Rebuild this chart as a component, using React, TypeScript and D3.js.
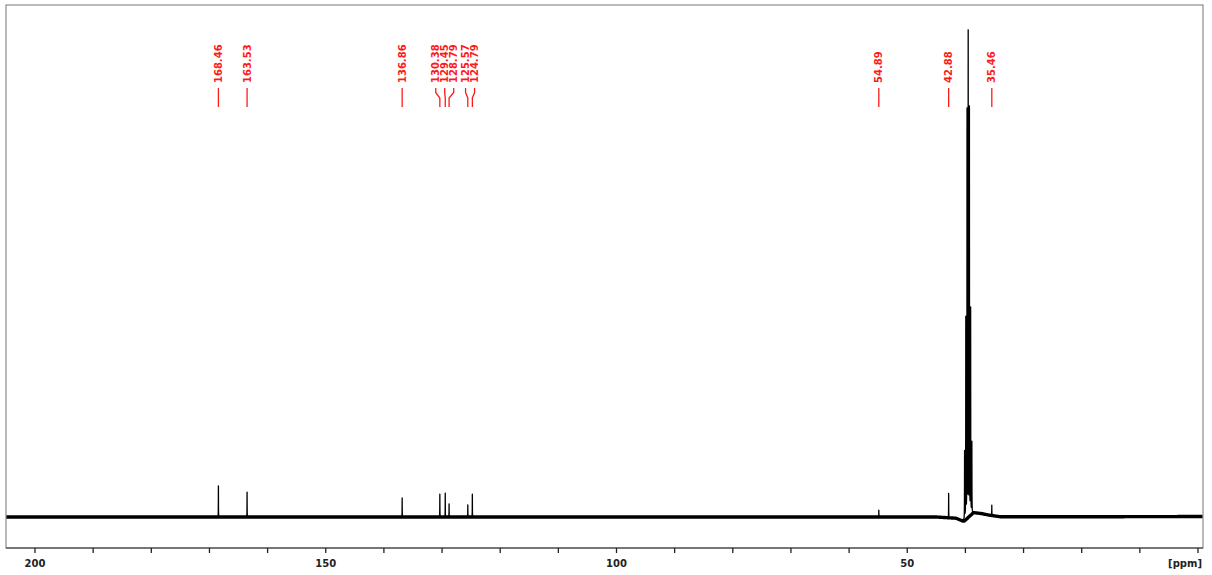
import React, { useMemo } from "react";
import * as d3 from "d3";

// Peak picking (ppm) and peak intensities (relative, tallest solvent line = 100)
const peakPpm = [168.46, 163.53, 136.86, 130.38, 129.45, 128.79, 125.57, 124.79, 54.89, 42.88, 35.46];
const peakHeight = [6.4, 5.1, 3.9, 4.7, 4.9, 2.7, 2.5, 4.7, 1.4, 5.0, 2.1];
const peakLabels = ["168.46", "163.53", "136.86", "130.38", "129.45", "128.79", "125.57", "124.79", "54.89", "42.88", "35.46"];

// Solvent (DMSO-d6) septet, unlabelled
const solventPpm = [40.14, 39.93, 39.72, 39.52, 39.31, 39.10, 38.89];
const solventHeight = [14.0, 41.0, 83.3, 99.0, 83.3, 42.0, 14.5];

// Slow baseline drift (ppm, relative intensity)
const driftPpm = [206, 45, 41.6, 40.4, 40.2, 38.6, 37.2, 36.0, 34.0, 20, -2];
const driftVal = [0, 0, -0.25, -0.85, -0.85, 0.9, 0.7, 0.4, 0.05, 0.05, 0.1];

// Axis
const majorTicks = [200, 150, 100, 50];
const minorStep = 10;

const W = 1212;
const H = 575;
const frame = { left: 6, top: 5, right: 1203, bottom: 548 };

export default function App() {
  const x = d3.scaleLinear().domain([200, 0]).range([35, 1198]);
  const y = d3.scaleLinear().domain([0, 100]).range([517, 30]);
  const drift = d3.scaleLinear().domain(driftPpm).range(driftVal);

  const pMax = x.invert(frame.left);
  const pMin = x.invert(frame.right);

  const { specPath, basePath } = useMemo(() => {
    const pts: number[] = [];
    for (let p = pMax; p >= pMin; p -= 0.05) pts.push(p);
    const centers = [...peakPpm, ...solventPpm];
    centers.forEach((c) => {
      for (let p = c - 0.3; p <= c + 0.3; p += 0.004) pts.push(p);
      pts.push(c);
    });
    pts.sort((a, b) => b - a);
    const gPeak = 0.012;
    const gSolv = 0.016;
    const val = (p: number) => {
      let v = drift(p);
      for (let i = 0; i < peakPpm.length; i++) {
        const d = p - peakPpm[i];
        v += (peakHeight[i] * gPeak * gPeak) / (gPeak * gPeak + d * d);
      }
      for (let i = 0; i < solventPpm.length; i++) {
        const d = p - solventPpm[i];
        v += (solventHeight[i] * gSolv * gSolv) / (gSolv * gSolv + d * d);
      }
      return v;
    };
    const line = d3
      .line<number>()
      .x((p) => x(p))
      .y((p) => y(val(p)));
    const bpts: number[] = [];
    for (let p = pMax; p >= pMin; p -= 0.1) bpts.push(p);
    const bline = d3
      .line<number>()
      .x((p) => x(p))
      .y((p) => y(drift(p)));
    return { specPath: line(pts) || "", basePath: bline(bpts) || "" };
  }, []);

  // Label spreading (min spacing in px)
  const labelPos = useMemo(() => {
    const gap = 9;
    const items = peakPpm.map((p, i) => ({ i, px: x(p) })).sort((a, b) => a.px - b.px);
    let groups = items.map((it) => ({ members: [it], center: it.px }));
    let changed = true;
    while (changed) {
      changed = false;
      for (let k = 0; k < groups.length - 1; k++) {
        const a = groups[k];
        const b = groups[k + 1];
        const aEnd = a.center + ((a.members.length - 1) * gap) / 2;
        const bStart = b.center - ((b.members.length - 1) * gap) / 2;
        if (bStart - aEnd < gap) {
          const members = [...a.members, ...b.members];
          const center = d3.mean(members, (m) => m.px) as number;
          groups.splice(k, 2, { members, center });
          changed = true;
          break;
        }
      }
    }
    const pos: number[] = new Array(peakPpm.length);
    groups.forEach((g) => {
      const n = g.members.length;
      g.members.forEach((m, j) => {
        pos[m.i] = g.center + (j - (n - 1) / 2) * gap;
      });
    });
    return pos;
  }, []);

  const minor = d3.range(200, -0.001, -minorStep);
  const red = "#ff1a1a";

  return (
    <svg
      width={W}
      height={H}
      style={{ position: "absolute", left: 0, top: 0, background: "#fff" }}
    >
      <defs>
        <clipPath id="plotclip">
          <rect
            x={frame.left}
            y={frame.top}
            width={frame.right - frame.left}
            height={frame.bottom - frame.top}
          />
        </clipPath>
      </defs>
      <rect x={0} y={0} width={W} height={H} fill="#fff" />
      <g clipPath="url(#plotclip)">
        <path d={basePath} fill="none" stroke="#000" strokeWidth={3.4} strokeLinejoin="round" />
        <path d={specPath} fill="none" stroke="#000" strokeWidth={1.3} strokeLinejoin="round" />
      </g>
      <rect
        x={frame.left}
        y={frame.top}
        width={frame.right - frame.left}
        height={frame.bottom - frame.top}
        fill="none"
        stroke="#8c8c8c"
        strokeWidth={1.2}
      />
      <line x1={frame.left} x2={frame.right} y1={frame.bottom} y2={frame.bottom} stroke="#333" strokeWidth={1.2} />
      {minor.map((t) => (
        <line key={t} x1={x(t)} x2={x(t)} y1={frame.bottom} y2={frame.bottom + 5} stroke="#222" strokeWidth={1.3} />
      ))}
      {majorTicks.map((t) => (
        <text
          key={t}
          x={x(t)}
          y={567}
          textAnchor="middle"
          fontFamily="DejaVu Sans"
          fontWeight="bold"
          fontSize={10}
          fill="#222"
        >
          {t}
        </text>
      ))}
      <text x={1202} y={567} textAnchor="end" fontFamily="DejaVu Sans" fontWeight="bold" fontSize={10} fill="#222">
        [ppm]
      </text>
      {peakPpm.map((p, i) => {
        const lx = labelPos[i];
        const px = x(p);
        return (
          <g key={i}>
            <path
              d={`M${lx},88 V92.5 L${px},98 V107`}
              fill="none"
              stroke={red}
              strokeWidth={1.3}
            />
            <text
              transform={`translate(${lx},83) rotate(-90)`}
              textAnchor="start"
              dominantBaseline="central"
              fontFamily="DejaVu Sans"
              fontWeight="bold"
              fontSize={10}
              fill={red}
            >
              {peakLabels[i]}
            </text>
          </g>
        );
      })}
    </svg>
  );
}
